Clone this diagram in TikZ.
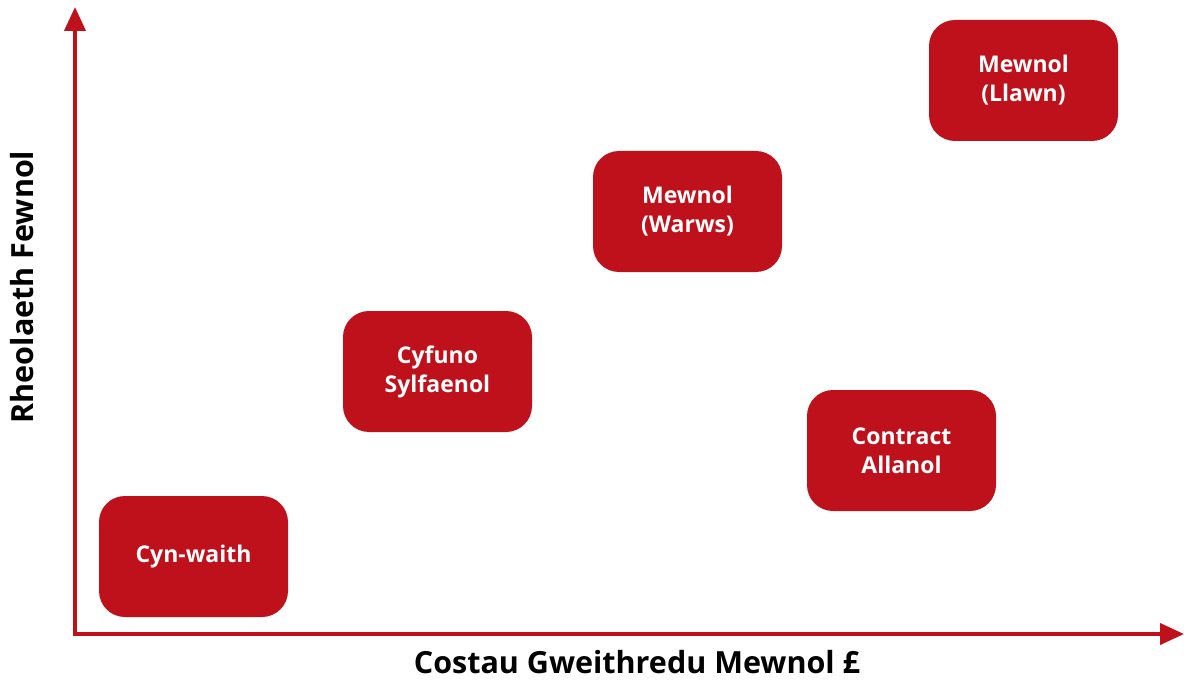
\documentclass[tikz,border=0pt]{standalone}
\usepackage{fontspec}
\setmainfont{Open Sans}
\usetikzlibrary{arrows.meta}
\definecolor{boxred}{HTML}{BE111B}
\tikzset{
  box/.style={fill=boxred, draw=none, rounded corners=26pt, minimum width=189pt, minimum height=121pt, align=center, text=white, font=\fontsize{23}{29}\selectfont\bfseries, inner sep=0pt},
  axis/.style={draw=boxred, line width=4pt, -{Triangle[length=24pt,width=21pt]}},
  axlabel/.style={font=\fontsize{30.5}{34}\selectfont\bfseries, text=black}
}
\begin{document}
\begin{tikzpicture}[x=1pt,y=-1pt]
\useasboundingbox (0,0) rectangle (1184,682);
\coordinate (O) at (75,634);
\coordinate (Ytop) at (75,7);
\coordinate (Xend) at (1184,634);
\draw[axis] (O) -- (Ytop);
\draw[axis] ([xshift=-2pt]O) -- (Xend);
\node[box] (cyn) at (193.5,556.5) {Cyn-waith};
\node[box] (cyf) at (437.5,371.5) {Cyfuno\\Sylfaenol};
\node[box] (warws) at (687.5,211.5) {Mewnol\\(Warws)};
\node[box] (con) at (901.5,450.5) {Contract\\Allanol};
\node[box] (llawn) at (1023.5,80.5) {Mewnol\\(Llawn)};
\node[axlabel] (xl) at (637,662) {Costau Gweithredu Mewnol £};
\node[axlabel, rotate=90] (yl) at (22,287) {Rheolaeth Fewnol};
\end{tikzpicture}
\end{document}
